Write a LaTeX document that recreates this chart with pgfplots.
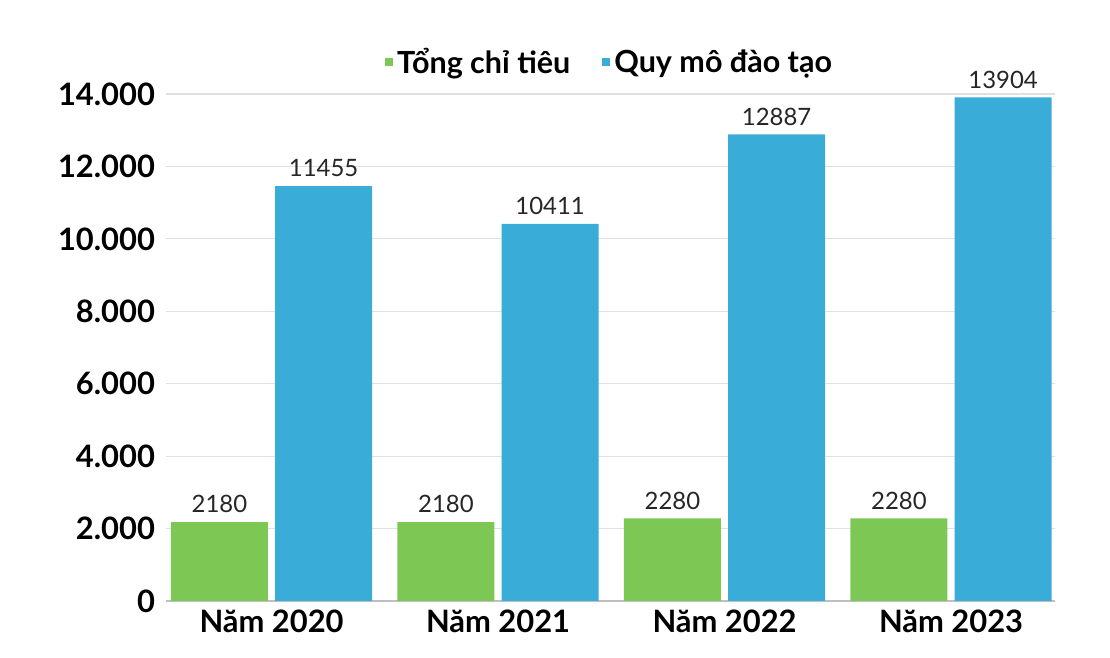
\documentclass[border=0pt]{standalone}
\usepackage{pgfplots}
\pgfplotsset{compat=1.18}
\usepackage{fontspec}
\setmainfont{Lato}

\definecolor{cgreen}{RGB}{125,200,85}
\definecolor{cblue}{RGB}{58,172,216}
\definecolor{cgrid}{RGB}{224,224,228}
\definecolor{caxis}{RGB}{190,190,195}

\begin{document}
\begin{tikzpicture}
\begin{axis}[
    name=ax,
    scale only axis,
    width=444.5bp, height=253.5bp,
    ybar,
    xmin=-0.466, xmax=3.459,
    ymin=0, ymax=14000,
    xtick={0,1,2,3},
    xticklabels={Năm 2020, Năm 2021, Năm 2022, Năm 2023},
    ytick={0,2000,...,14000},
    scaled y ticks=false,
    major tick length=0pt,
    axis lines*=left,
    x axis line style={caxis, line width=0.8pt},
    y axis line style={draw=none},
    ymajorgrids,
    grid style={cgrid, line width=0.6pt},
    /pgf/number format/assume math mode=true,
    yticklabel style={font=\bfseries\fontsize{15.5}{17}\selectfont,
        /pgf/number format/1000 sep={.}, xshift=-2bp},
    xticklabel style={font=\bfseries\fontsize{15.5}{17}\selectfont, yshift=-1bp},
    nodes near coords={\pgfmathprintnumber[1000 sep={}]{\pgfplotspointmeta}},
    nodes near coords style={font=\fontsize{12}{14}\selectfont, text=black!85,
        yshift=1bp},
    legend style={at={(0.5,1)}, anchor=south, yshift=4.5bp, draw=none, fill=none,
        legend columns=2, font=\bfseries\fontsize{15.3}{17}\selectfont,
        /tikz/every even column/.append style={column sep=14bp}},
    legend image code/.code={\fill[#1] (0bp,-2bp) rectangle (4bp,2bp);},
]
\addplot[fill=cgreen, draw=none, bar width=0.428, bar shift=-0.23]
    coordinates {(0,2180) (1,2180) (2,2280) (3,2280)};
\addplot[fill=cblue, draw=none, bar width=0.428, bar shift=0.23]
    coordinates {(0,11455) (1,10411) (2,12887) (3,13904)};
\legend{Tổng chỉ tiêu, Quy mô đào tạo}
\end{axis}
\pgfresetboundingbox
\path ([shift={(-83bp,-28.5bp)}]ax.south west) rectangle ([shift={(27.5bp,47bp)}]ax.north east);
\end{tikzpicture}
\end{document}
